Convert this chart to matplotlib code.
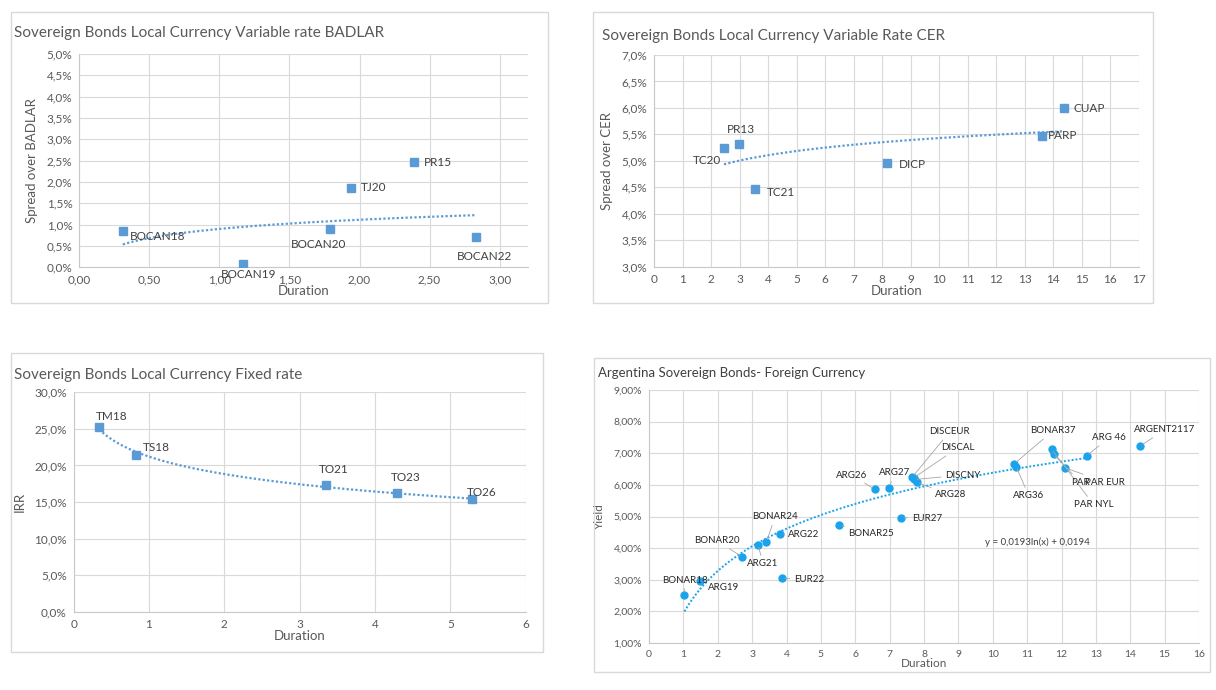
import numpy as np
import matplotlib
matplotlib.use('Agg')
import matplotlib.pyplot as plt
from matplotlib.patches import Rectangle
from matplotlib.ticker import FuncFormatter, MultipleLocator

plt.rcParams['font.family'] = ['Lato', 'DejaVu Sans']

W, H = 1216, 690

# ---- BADLAR (top-left) ----
badlar_names = ['BOCAN18', 'BOCAN19', 'BOCAN20', 'TJ20', 'PR15', 'BOCAN22']
badlar_dur = [0.31, 1.17, 1.79, 1.94, 2.39, 2.83]
badlar_spread = [0.86, 0.08, 0.90, 1.87, 2.47, 0.71]
badlar_lbl_x = [0.56, 1.21, 1.71, 2.10, 2.56, 2.89]
badlar_lbl_y = [0.73, -0.18, 0.54, 1.87, 2.46, 0.25]
badlar_trend = (0.31, 0.90)   # a*ln(x)+b

# ---- CER (top-right) ----
cer_names = ['TC20', 'PR13', 'TC21', 'DICP', 'PARP', 'CUAP']
cer_dur = [2.45, 2.97, 3.55, 8.17, 13.62, 14.37]
cer_spread = [5.25, 5.31, 4.47, 4.95, 5.47, 5.99]
cer_lbl_x = [1.86, 3.06, 4.44, 9.06, 14.32, 15.28]
cer_lbl_y = [5.00, 5.60, 4.40, 4.94, 5.47, 5.99]
cer_trend = (0.353, 4.618)

# ---- Fixed rate (bottom-left) ----
fix_names = ['TM18', 'TS18', 'TO21', 'TO23', 'TO26']
fix_dur = [0.34, 0.83, 3.35, 4.29, 5.28]
fix_irr = [25.26, 21.38, 17.37, 16.19, 15.36]
fix_lbl_x = [0.50, 1.10, 3.45, 4.41, 5.41]
fix_lbl_y = [26.72, 22.48, 19.38, 18.37, 16.32]
fix_trend = (-3.45, 21.21)

# ---- Foreign currency (bottom-right) ----
fx_names = ['BONAR18', 'ARG19', 'BONAR20', 'ARG21', 'BONAR24', 'ARG22', 'EUR22',
            'BONAR25', 'ARG26', 'ARG27', 'EUR27', 'DISCEUR', 'DISCAL', 'DISCNY',
            'ARG28', 'BONAR37', 'ARG36', 'PAR NYL', 'PAR', 'PAR EUR', 'ARG 46',
            'ARGENT2117']
fx_dur = [1.03, 1.47, 2.70, 3.17, 3.41, 3.82, 3.87, 5.54, 6.57, 6.99, 7.34,
          7.66, 7.70, 7.72, 7.80, 10.62, 10.68, 11.71, 11.77, 12.10, 12.73, 14.29]
fx_yield = [2.52, 2.96, 3.73, 4.11, 4.19, 4.45, 3.05, 4.73, 5.86, 5.91, 4.96,
            6.25, 6.22, 6.17, 6.08, 6.66, 6.58, 7.13, 6.97, 6.54, 6.92, 7.23]
fx_lbl_x = [1.05, 2.16, 1.98, 3.32, 3.67, 4.49, 4.66, 6.47, 5.89, 7.14, 8.08,
            8.75, 8.98, 9.13, 8.78, 11.75, 11.05, 12.94, 12.54, 13.27, 13.38, 15.01]
fx_lbl_y = [2.99, 2.74, 4.23, 3.50, 4.99, 4.42, 3.02, 4.45, 6.31, 6.38, 4.95,
            7.68, 7.17, 6.31, 5.68, 7.71, 5.65, 5.37, 6.09, 6.09, 7.49, 7.74]
fx_trend = (1.93, 1.94)
fx_equation = 'y = 0,0193ln(x) + 0,0194'

SQ_BLUE = '#5b9bd5'
DOT_BLUE = '#1aa3ec'
GRID = '#d9d9d9'
TXT = '#595959'
LBL = '#404040'


def pct(dec):
    return FuncFormatter(lambda v, p: f'{v:.{dec}f}%'.replace('.', ','))


def box(x0, y0, x1, y1):
    r = Rectangle((x0 / W, 1 - y1 / H), (x1 - x0) / W, (y1 - y0) / H,
                  transform=fig.transFigure, fill=False, ec=GRID, lw=1.0)
    fig.add_artist(r)


def make_ax(x0, y0, x1, y1):
    ax = fig.add_axes([x0 / W, 1 - y1 / H, (x1 - x0) / W, (y1 - y0) / H])
    ax.grid(True, color=GRID, lw=0.8)
    ax.set_axisbelow(True)
    for s in ['top', 'right']:
        ax.spines[s].set_visible(False)
    for s in ['left', 'bottom']:
        ax.spines[s].set_color('#c8c8c8')
    ax.tick_params(length=0, colors=TXT, labelsize=8.5, pad=5)
    return ax


def trend(ax, x, coef, color, lw=1.6):
    xs = np.linspace(min(x), max(x), 200)
    ax.plot(xs, coef[0] * np.log(xs) + coef[1], ls=(0, (1, 1)), color=color, lw=lw)


fig = plt.figure(figsize=(W / 100, H / 100), dpi=100)

# top-left
box(11, 12, 548, 303)
ax1 = make_ax(79.4, 54, 527.6, 267.3)
trend(ax1, badlar_dur, badlar_trend, SQ_BLUE)
ax1.plot(badlar_dur, badlar_spread, 's', color=SQ_BLUE, ms=5.5, zorder=3)
for n, lx, ly in zip(badlar_names, badlar_lbl_x, badlar_lbl_y):
    ax1.text(lx, ly, n, ha='center', va='center', fontsize=8.5, color=LBL, clip_on=False)
ax1.set_xlim(0, 3.2)
ax1.set_ylim(0, 5)
ax1.xaxis.set_major_locator(MultipleLocator(0.5))
ax1.yaxis.set_major_locator(MultipleLocator(0.5))
ax1.xaxis.set_major_formatter(FuncFormatter(lambda v, p: f'{v:.2f}'.replace('.', ',')))
ax1.yaxis.set_major_formatter(pct(1))
ax1.set_xlabel('Duration', color=TXT, fontsize=9.5, labelpad=0)
ax1.set_ylabel('Spread over BADLAR', color=TXT, fontsize=9.5, labelpad=6)
fig.text(13.6 / W, 1 - 33 / H, 'Sovereign Bonds Local Currency Variable rate BADLAR',
         fontsize=11, color=TXT, va='center')

# top-right
box(593, 12, 1153, 303)
ax2 = make_ax(654.2, 55, 1138.6, 266.7)
trend(ax2, cer_dur, cer_trend, SQ_BLUE)
ax2.plot(cer_dur, cer_spread, 's', color=SQ_BLUE, ms=5.5, zorder=3)
for n, lx, ly in zip(cer_names, cer_lbl_x, cer_lbl_y):
    ax2.text(lx, ly, n, ha='center', va='center', fontsize=8.5, color=LBL)
ax2.set_xlim(0, 17)
ax2.set_ylim(3, 7)
ax2.xaxis.set_major_locator(MultipleLocator(1))
ax2.yaxis.set_major_locator(MultipleLocator(0.5))
ax2.yaxis.set_major_formatter(pct(1))
ax2.set_xlabel('Duration', color=TXT, fontsize=9.5, labelpad=0)
ax2.set_ylabel('Spread over CER', color=TXT, fontsize=9.5, labelpad=6)
fig.text(602 / W, 1 - 36 / H, 'Sovereign Bonds Local Currency Variable Rate CER',
         fontsize=11, color=TXT, va='center')

# bottom-left
box(11, 353, 543, 652)
ax3 = make_ax(73.6, 392.3, 525.8, 611.7)
trend(ax3, fix_dur, fix_trend, SQ_BLUE)
ax3.plot(fix_dur, fix_irr, 's', color=SQ_BLUE, ms=5.5, zorder=3)
for n, lx, ly in zip(fix_names, fix_lbl_x, fix_lbl_y):
    ax3.text(lx, ly, n, ha='center', va='center', fontsize=8.5, color=LBL)
ax3.set_xlim(0, 6)
ax3.set_ylim(0, 30)
ax3.xaxis.set_major_locator(MultipleLocator(1))
ax3.yaxis.set_major_locator(MultipleLocator(5))
ax3.yaxis.set_major_formatter(pct(1))
ax3.set_xlabel('Duration', color=TXT, fontsize=9.5, labelpad=0)
ax3.set_ylabel('IRR', color=TXT, fontsize=9.5, labelpad=6)
fig.text(14.4 / W, 1 - 375 / H, 'Sovereign Bonds Local Currency Fixed rate',
         fontsize=11, color=TXT, va='center')

# bottom-right
box(594, 358, 1210, 672)
ax4 = make_ax(649, 390, 1199, 643)
ax4.tick_params(labelsize=7.5)
trend(ax4, [fx_dur[0], fx_dur[-2]], fx_trend, DOT_BLUE, lw=1.4)
ax4.plot(fx_dur, fx_yield, 'o', color=DOT_BLUE, ms=5, zorder=3)
for n, px, py, lx, ly in zip(fx_names, fx_dur, fx_yield, fx_lbl_x, fx_lbl_y):
    ax4.annotate(n, xy=(px, py), xytext=(lx, ly), ha='center', va='center',
                 fontsize=7, color='#262626',
                 arrowprops=dict(arrowstyle='-', color='#a6a6a6', lw=0.6,
                                 shrinkA=1, shrinkB=2))
ax4.text(11.3, 4.19, fx_equation, ha='center', va='center', fontsize=7, color=LBL)
ax4.set_xlim(0, 16)
ax4.set_ylim(1, 9)
ax4.xaxis.set_major_locator(MultipleLocator(1))
ax4.yaxis.set_major_locator(MultipleLocator(1))
ax4.yaxis.set_major_formatter(pct(2))
ax4.set_xlabel('Duration', color=TXT, fontsize=8.5, labelpad=-1)
ax4.set_ylabel('Yield', color=TXT, fontsize=8.5, labelpad=6)
fig.text(598 / W, 1 - 373 / H, 'Argentina Sovereign Bonds- Foreign Currency',
         fontsize=9.5, color=LBL, va='center')

fig.savefig('out.png', dpi=100, facecolor='white')
